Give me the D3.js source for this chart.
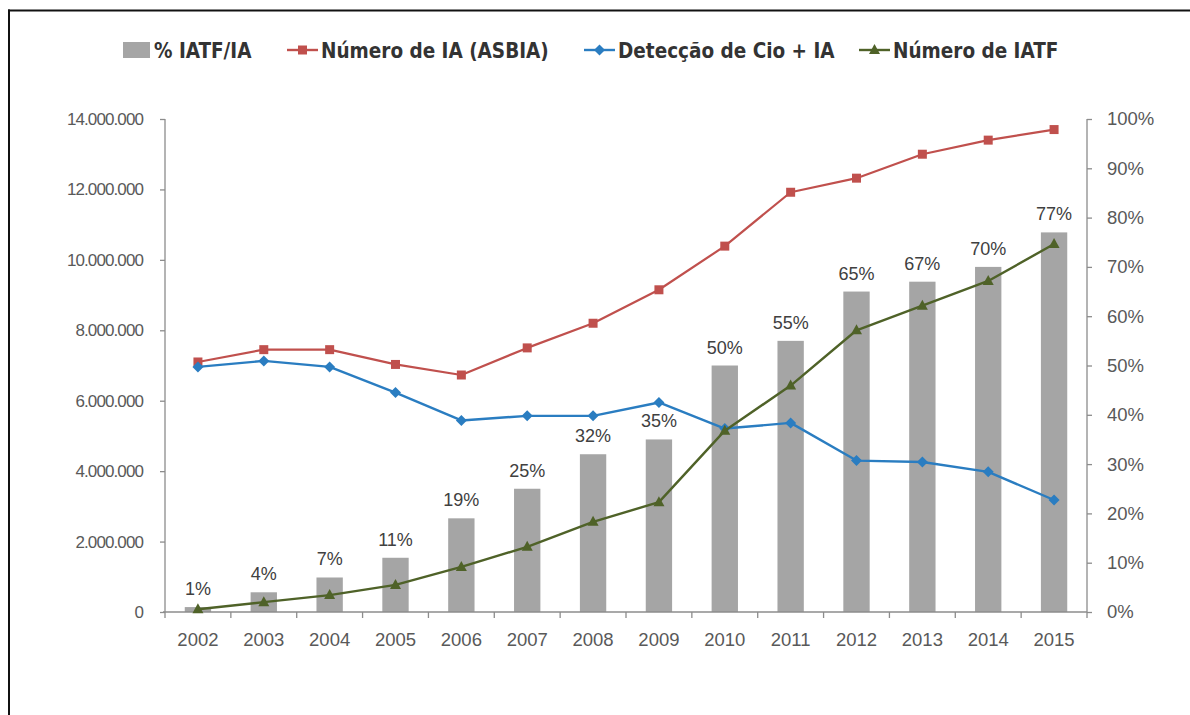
<!DOCTYPE html>
<html>
<head>
<meta charset="utf-8">
<script src="https://cdn.jsdelivr.net/npm/d3@7"></script>
<style>
  html, body { margin: 0; padding: 0; background: #fff; }
  svg { display: block; }
</style>
</head>
<body>
<svg id="chart" width="1190" height="715"></svg>
<script>
// Inseminação artificial no Brasil, 2002–2015
const years = ["2002","2003","2004","2005","2006","2007","2008","2009","2010","2011","2012","2013","2014","2015"];
// % IATF/IA (bars, right axis)
const pctIatf = [0.01,0.04,0.07,0.11,0.19,0.25,0.32,0.35,0.50,0.55,0.65,0.67,0.70,0.77];
// Número de IA (ASBIA)
const numIA = [7100000,7450000,7450000,7030000,6730000,7500000,8200000,9150000,10390000,11920000,12320000,13000000,13400000,13700000];
// Detecção de Cio + IA
const detCio = [6960000,7130000,6960000,6230000,5440000,5570000,5570000,5950000,5210000,5370000,4300000,4260000,3980000,3180000];
// Número de IATF
const numIatf = [80000,280000,480000,770000,1280000,1850000,2560000,3120000,5150000,6430000,8000000,8700000,9400000,10450000];

const leftTicks = [0,2000000,4000000,6000000,8000000,10000000,12000000,14000000];
const rightTicks = [0,0.1,0.2,0.3,0.4,0.5,0.6,0.7,0.8,0.9,1.0];

const legendItems = [
  { label: "% IATF/IA", kind: "bar" },
  { label: "Número de IA (ASBIA)", kind: "square" },
  { label: "Detecção de Cio + IA", kind: "diamond" },
  { label: "Número de IATF", kind: "triangle" }
];

const colors = {
  bar: "#a5a5a5",
  square: "#c0504d",
  diamond: "#2a7dc1",
  triangle: "#4f6228",
  axis: "#8c8c8c",
  tickText: "#595959",
  label: "#404040"
};

const svg = d3.select("#chart");
const fontTick = "'Liberation Sans', Arial, sans-serif";

// page frame (top and left rules)
svg.append("line").attr("x1", 8).attr("x2", 1190).attr("y1", 10.5).attr("y2", 10.5)
  .attr("stroke", "#111").attr("stroke-width", 2);
svg.append("line").attr("x1", 9).attr("x2", 9).attr("y1", 9.5).attr("y2", 715)
  .attr("stroke", "#111").attr("stroke-width", 2);

const plot = { left: 165, right: 1087, top: 119, bottom: 612 };

const x = d3.scaleBand().domain(years).range([plot.left, plot.right])
  .paddingInner(0.6).paddingOuter(0.3);
const cx = d => x(d) + x.bandwidth() / 2;
const yL = d3.scaleLinear().domain([0, 14000000]).range([plot.bottom, plot.top]);
const yR = d3.scaleLinear().domain([0, 1]).range([plot.bottom, plot.top]);

const locale = d3.formatLocale({ decimal: ",", thousands: ".", grouping: [3], currency: ["", ""] });
const fmtL = locale.format(",");
const fmtR = d3.format(".0%");

// bars
svg.append("g").selectAll("rect").data(years).join("rect")
  .attr("x", d => x(d))
  .attr("width", x.bandwidth())
  .attr("y", (d, i) => yR(pctIatf[i]))
  .attr("height", (d, i) => plot.bottom - yR(pctIatf[i]))
  .attr("fill", colors.bar);

// axes
const axisL = svg.append("g").attr("transform", `translate(${plot.left},0)`)
  .call(d3.axisLeft(yL).tickValues(leftTicks).tickFormat(fmtL).tickSize(5).tickPadding(17));
const axisR = svg.append("g").attr("transform", `translate(${plot.right},0)`)
  .call(d3.axisRight(yR).tickValues(rightTicks).tickFormat(fmtR).tickSize(5).tickPadding(15));
const axisB = svg.append("g").attr("transform", `translate(0,${plot.bottom})`)
  .call(d3.axisBottom(x).tickSize(0).tickPadding(21));

[axisL, axisR, axisB].forEach(g => {
  g.select(".domain").attr("stroke", colors.axis).attr("stroke-width", 1.3);
  g.selectAll(".tick line").attr("stroke", colors.axis).attr("stroke-width", 1.3);
  g.selectAll(".tick text").attr("fill", colors.tickText)
    .style("font-family", fontTick);
});
axisL.selectAll(".tick text").style("font-size", "17px").style("letter-spacing", "-0.9px");
axisR.selectAll(".tick text").style("font-size", "18.5px");
axisB.selectAll(".tick text").style("font-size", "18.5px");
axisL.select(".domain").attr("d", `M0,${plot.top}V${plot.bottom}`);
axisR.select(".domain").attr("d", `M0,${plot.top}V${plot.bottom}`);
axisB.select(".domain").attr("d", `M${plot.left - 2},0H${plot.right}`);

// category separators on the x axis
const bounds = years.map(d => x(d) - (x.step() - x.bandwidth()) / 2).concat([plot.right]);
svg.append("g").selectAll("line").data(bounds).join("line")
  .attr("x1", d => d).attr("x2", d => d)
  .attr("y1", plot.bottom).attr("y2", plot.bottom + 6)
  .attr("stroke", colors.axis).attr("stroke-width", 1.3);

// bar value labels
svg.append("g").selectAll("text").data(years).join("text")
  .attr("x", d => cx(d))
  .attr("y", (d, i) => yR(pctIatf[i]) - 12)
  .attr("text-anchor", "middle")
  .attr("fill", colors.label)
  .style("font-family", fontTick).style("font-size", "18px")
  .text((d, i) => fmtR(pctIatf[i]));

// line series
function drawSeries(values, color, kind, width) {
  const line = d3.line().x((d, i) => cx(years[i])).y(d => yL(d));
  svg.append("path").datum(values).attr("d", line)
    .attr("fill", "none").attr("stroke", color).attr("stroke-width", width)
    .attr("stroke-linejoin", "round");
  const g = svg.append("g");
  g.selectAll("path").data(values).join("path")
    .attr("transform", (d, i) => `translate(${cx(years[i])},${yL(d)})`)
    .attr("d", markerPath(kind))
    .attr("fill", color);
}
function markerPath(kind) {
  if (kind === "square") return "M-4.5,-4.5H4.5V4.5H-4.5Z";
  if (kind === "diamond") return "M0,-5.5L5.5,0L0,5.5L-5.5,0Z";
  return "M0,-6L5.5,4L-5.5,4Z";
}

drawSeries(numIA, colors.square, "square", 2.2);
drawSeries(detCio, colors.diamond, "diamond", 2.4);
drawSeries(numIatf, colors.triangle, "triangle", 2.4);

// legend
const legendX = [123, 287, 584, 859];
const legend = svg.append("g").attr("transform", "translate(0,50)");
legendItems.forEach((it, i) => {
  const g = legend.append("g").attr("transform", `translate(${legendX[i]},0)`);
  let textX;
  if (it.kind === "bar") {
    g.append("rect").attr("x", 0).attr("y", -8).attr("width", 27).attr("height", 16).attr("fill", colors.bar);
    textX = 31;
  } else {
    g.append("line").attr("x1", 0).attr("x2", 31).attr("y1", 0).attr("y2", 0)
      .attr("stroke", colors[it.kind]).attr("stroke-width", 2.4);
    g.append("path").attr("transform", "translate(15.5,0)").attr("d", markerPath(it.kind)).attr("fill", colors[it.kind]);
    textX = 34;
  }
  g.append("text").attr("x", textX).attr("y", 8)
    .attr("fill", "#333")
    .style("font-family", "'DejaVu Sans Condensed', 'Liberation Sans', sans-serif")
    .style("font-weight", "bold")
    .style("font-size", "20.5px")
    .text(it.label);
});
</script>
</body>
</html>
